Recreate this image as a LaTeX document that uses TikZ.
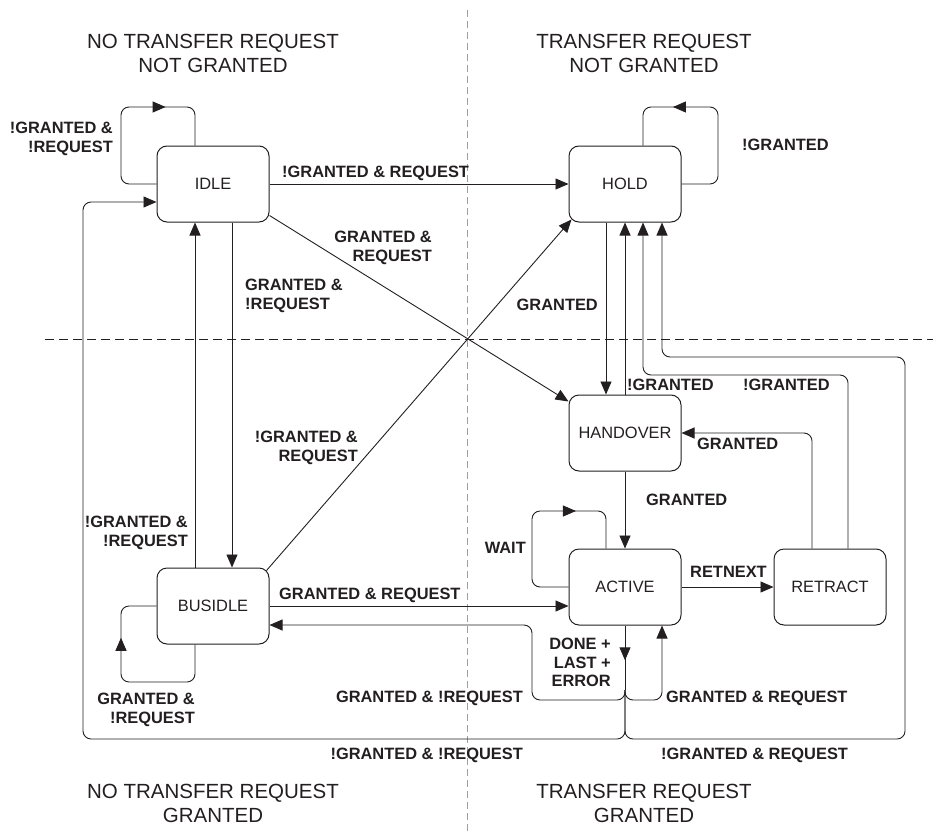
\documentclass[tikz,border=0pt]{standalone}
\usepackage{fontspec}
\setmainfont{Liberation Sans}
\usetikzlibrary{arrows.meta,decorations.markings}

\definecolor{ink}{RGB}{35,31,32}
\newcommand{\regionfont}{\fontsize{20.5}{24}\selectfont}
\newcommand{\statefont}{\fontsize{16.4}{19}\selectfont}
\newcommand{\condfont}{\bfseries\fontsize{16.4}{18.5}\selectfont}

\tikzset{
  state/.style={draw=ink, line width=1pt, rounded corners=10pt, minimum width=112pt,
    minimum height=76pt, inner sep=0pt, font=\statefont, text=ink},
  tr/.style={draw=ink, line width=0.9pt, rounded corners=8pt,
    -{Triangle[length=13pt,width=11pt]}},
  loopback/.style={draw=ink, line width=0.9pt, rounded corners=8pt, postaction={decorate},
    decoration={markings, mark=at position #1 with {\arrow{Triangle[length=13pt,width=11pt]}}}},
  condl/.style={font=\condfont, text=ink, inner sep=0pt, anchor=north west, align=left},
  condr/.style={font=\condfont, text=ink, inner sep=0pt, anchor=north east, align=right},
  region/.style={font=\regionfont, text=ink, inner sep=0pt, anchor=north, align=center}
}

\begin{document}
\begin{tikzpicture}[x=1pt, y=-1pt]

  % Page frame
  \useasboundingbox (0,0) rectangle (933,832);

  % Quadrant dividers
  \draw[gray!75, line width=0.9pt, dash pattern=on 7pt off 4pt] (467,10) -- (467,832);
  \draw[ink, line width=0.9pt, dash pattern=on 9pt off 5pt] (45,339) -- (933,339);

  % Quadrant captions
  \node[region] (capNoReqNotGr) at (213,34) {NO TRANSFER REQUEST\\NOT GRANTED};
  \node[region] (capReqNotGr) at (644,34) {TRANSFER REQUEST\\NOT GRANTED};
  \node[region] (capNoReqGr) at (213,784) {NO TRANSFER REQUEST\\GRANTED};
  \node[region] (capReqGr) at (644,784) {TRANSFER REQUEST\\GRANTED};

  % States
  \node[state] (idle) at (213,184) {IDLE};
  \node[state] (hold) at (625,184) {HOLD};
  \node[state] (handover) at (625,433) {HANDOVER};
  \node[state] (active) at (625,587) {ACTIVE};
  \node[state] (retract) at (830,587) {RETRACT};
  \node[state] (busidle) at (213,606) {BUSIDLE};

  % IDLE transitions
  \draw[loopback=0.70] (idle.west) -| (121,107) -| ([xshift=-18pt]idle.north);
  \node[condr] (lblIdleLoop) at (113,122) {!GRANTED \&\\!REQUEST};
  \draw[tr] (idle.east) -- (hold.west);
  \node[condl] (lblIdleHold) at (282,166) {!GRANTED \& REQUEST};
  \draw[tr] ([yshift=7pt]idle.south east) -- ([yshift=-7pt]handover.north west);
  \node[condr] (lblIdleHandover) at (432,231) {GRANTED \&\\REQUEST};
  \draw[tr] ([xshift=19pt]idle.south) -- ([xshift=19pt]busidle.north);
  \node[condl] (lblIdleBusidle) at (245,279) {GRANTED \&\\!REQUEST};

  % BUSIDLE transitions
  \draw[tr] ([xshift=-18pt]busidle.north) -- ([xshift=-18pt]idle.south);
  \node[condr] (lblBusidleIdle) at (188,516) {!GRANTED \&\\!REQUEST};
  \draw[tr] ([shift={(-3pt,-3pt)}]busidle.north east) -- ([shift={(3pt,3pt)}]hold.south west);
  \node[condr] (lblBusidleHold) at (358,431) {!GRANTED \&\\REQUEST};
  \draw[loopback=0.70] ([xshift=-18pt]busidle.south) |- (121,682) |- (busidle.west);
  \node[condr] (lblBusidleLoop) at (195,693) {GRANTED \&\\!REQUEST};
  \draw[tr] (busidle.east) -- (busidle.east -| active.west);
  \node[condl] (lblBusidleActive) at (279,588) {GRANTED \& REQUEST};

  % HOLD and HANDOVER transitions
  \draw[loopback=0.70] (hold.east) -| (718,107) -| ([xshift=18pt]hold.north);
  \node[condl] (lblHoldLoop) at (742,139) {!GRANTED};
  \draw[tr] ([xshift=-19pt]hold.south) -- ([xshift=-19pt]handover.north);
  \node[condr] (lblHoldHandover) at (598,299) {GRANTED};
  \draw[tr] (handover.north) -- (hold.south);
  \node[condl] (lblHandoverHold) at (627,379) {!GRANTED};
  \draw[tr] (handover.south) -- (active.north);
  \node[condl] (lblHandoverActive) at (646,494) {GRANTED};

  % RETRACT transitions
  \draw[tr] ([xshift=18pt]retract.north) |- (643,375) -- ([xshift=18pt]hold.south);
  \node[condl] (lblRetractHold) at (743,379) {!GRANTED};
  \draw[tr] ([xshift=-18pt]retract.north) |- (handover.east);
  \node[condl] (lblRetractHandover) at (697,438) {GRANTED};

  % ACTIVE transitions
  \draw[loopback=0.70] (active.west) -| (532,511) -| ([xshift=-19pt]active.north);
  \node[condr] (lblWait) at (526,542) {WAIT};
  \draw[tr] (active.east) -- (retract.west);
  \node[condl] (lblRetnext) at (690,566) {RETNEXT};

  % DONE + LAST + ERROR fork
  \coordinate (fork) at (625,690);
  \draw[loopback=0.54] (active.south) -- (fork);
  \node[condr] (lblDone) at (611,638) {DONE +\\LAST +\\ERROR};
  \draw[tr] (fork) |- (532,700) |- ([yshift=-19pt]busidle.east);
  \node[condr] (lblForkBusidle) at (523,691) {GRANTED \& !REQUEST};
  \draw[tr] (fork) |- (662,700) -- ([xshift=37pt]active.south);
  \node[condl] (lblForkActive) at (666,691) {GRANTED \& REQUEST};
  \draw[tr] (fork) |- (83,739) |- ([yshift=-18pt]idle.west);
  \node[condr] (lblForkIdle) at (523,748) {!GRANTED \& !REQUEST};
  \draw[tr] (fork) |- (905,739) |- (662,357) -- ([xshift=37pt]hold.south);
  \node[condl] (lblForkHold) at (661,748) {!GRANTED \& REQUEST};

\end{tikzpicture}
\end{document}
